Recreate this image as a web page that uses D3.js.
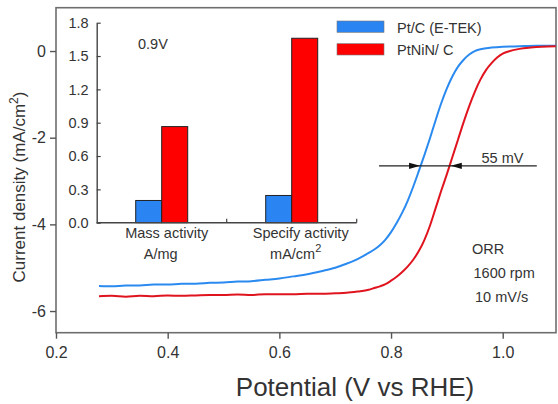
<!DOCTYPE html>
<html>
<head>
<meta charset="utf-8">
<script src="https://cdn.jsdelivr.net/npm/d3@7"></script>
<style>
  html, body { margin: 0; padding: 0; background: #fff; }
  svg { display: block; font-family: "Liberation Sans", Arial, sans-serif; }
</style>
</head>
<body>
<svg id="chart" width="558" height="404"></svg>
<script>
// ORR polarization curves (current density vs potential)
const ptcPotential = [0.277, 0.30, 0.325, 0.35, 0.375, 0.40, 0.425, 0.45, 0.475, 0.50, 0.525, 0.55, 0.575, 0.60, 0.625, 0.65, 0.675, 0.70, 0.72, 0.74, 0.76, 0.77, 0.78, 0.79, 0.80, 0.81, 0.82, 0.83, 0.84, 0.85, 0.86, 0.87, 0.88, 0.89, 0.90, 0.91, 0.92, 0.93, 0.94, 0.95, 0.96, 0.98, 1.00, 1.03, 1.06, 1.095];
const ptcCurrent   = [-5.42, -5.43, -5.41, -5.41, -5.39, -5.39, -5.37, -5.37, -5.35, -5.34, -5.32, -5.31, -5.28, -5.25, -5.20, -5.15, -5.08, -5.00, -4.91, -4.80, -4.66, -4.58, -4.48, -4.35, -4.18, -3.97, -3.73, -3.45, -3.12, -2.76, -2.39, -2.00, -1.59, -1.20, -0.86, -0.58, -0.36, -0.20, -0.08, 0.00, 0.04, 0.08, 0.10, 0.11, 0.12, 0.12];

const ptninPotential = [0.277, 0.30, 0.325, 0.35, 0.375, 0.40, 0.425, 0.45, 0.475, 0.50, 0.525, 0.55, 0.575, 0.60, 0.625, 0.65, 0.675, 0.70, 0.72, 0.74, 0.76, 0.77, 0.78, 0.79, 0.80, 0.81, 0.82, 0.83, 0.84, 0.85, 0.86, 0.87, 0.88, 0.89, 0.90, 0.91, 0.92, 0.93, 0.94, 0.95, 0.96, 0.97, 0.98, 0.99, 1.00, 1.01, 1.03, 1.05, 1.07, 1.095];
const ptninCurrent   = [-5.66, -5.65, -5.67, -5.65, -5.66, -5.64, -5.65, -5.64, -5.63, -5.63, -5.62, -5.63, -5.61, -5.61, -5.61, -5.60, -5.60, -5.59, -5.58, -5.55, -5.51, -5.47, -5.43, -5.38, -5.30, -5.21, -5.10, -4.97, -4.81, -4.61, -4.35, -4.02, -3.62, -3.22, -2.84, -2.44, -2.04, -1.64, -1.27, -0.94, -0.66, -0.44, -0.28, -0.15, -0.06, -0.01, 0.05, 0.08, 0.10, 0.11];

const seriesNames  = ["Pt/C (E-TEK)", "PtNiN/ C"];
const lineColors   = ["#2b8af0", "#e0141e"];
const barColors    = ["#2a84f2", "#ff0000"];

const xTicks = [0.2, 0.4, 0.6, 0.8, 1.0];
const yTicks = [0, -2, -4, -6];

// Inset: activities at 0.9 V
const activityCategories = ["Mass activity", "Specify activity"];
const activityUnits      = ["A/mg", "mA/cm"];
const ptcActivity        = [0.20, 0.245];
const ptninActivity      = [0.865, 1.66];
const insetTicks         = [0.0, 0.3, 0.6, 0.9, 1.2, 1.5, 1.8];

// Half-wave potential shift marker
const shiftCurrent   = -2.65;
const shiftFrom      = 0.852;
const shiftTo        = 0.907;
const shiftLineSpan  = [0.7785, 1.061];

const notes = ["ORR", "1600 rpm", "10 mV/s"];

const svg = d3.select("#chart");
const textColor = "#333";

const x = d3.scaleLinear().domain([0.2, 1.0954]).range([56, 556]);
const y = d3.scaleLinear().domain([-6.5, 1.0]).range([332.7, 7.7]);

// frame
svg.append("rect")
  .attr("x", x.range()[0]).attr("y", y.range()[1])
  .attr("width", x.range()[1] - x.range()[0])
  .attr("height", y.range()[0] - y.range()[1])
  .attr("fill", "none").attr("stroke", "#6e6e6e").attr("stroke-width", 1.6);

// axes
const xAxis = svg.append("g")
  .attr("transform", `translate(0,${y.range()[0]})`)
  .call(d3.axisBottom(x).tickValues(xTicks).tickFormat(d3.format(".1f")).tickSize(6).tickPadding(8));
const yAxis = svg.append("g")
  .attr("transform", `translate(${x.range()[0]},0)`)
  .call(d3.axisLeft(y).tickValues(yTicks).tickFormat(d => String(d)).tickSize(6).tickPadding(4));
[xAxis, yAxis].forEach(g => {
  g.select(".domain").remove();
  g.selectAll(".tick line").attr("stroke", "#555").attr("stroke-width", 1.4);
  g.selectAll(".tick text").attr("fill", textColor).style("font-size", "16px")
    .style("font-family", "'Liberation Sans', Arial, sans-serif");
});

// axis titles
svg.append("text")
  .attr("x", 355).attr("y", 396)
  .attr("text-anchor", "middle")
  .attr("fill", textColor)
  .style("font-size", "26px")
  .text("Potential (V vs RHE)");

const yTitle = svg.append("text")
  .attr("transform", "translate(25,187) rotate(-90)")
  .attr("text-anchor", "middle")
  .attr("fill", textColor)
  .style("font-size", "17px");
yTitle.append("tspan").text("Current density (mA/cm");
yTitle.append("tspan").attr("dy", -7).style("font-size", "12px").text("2");
yTitle.append("tspan").attr("dy", 7).text(")");

// curves
const line = d3.line().x(d => x(d[0])).y(d => y(d[1])).curve(d3.curveMonotoneX);
const curveData = [
  d3.zip(ptcPotential, ptcCurrent),
  d3.zip(ptninPotential, ptninCurrent)
];
svg.selectAll("path.curve")
  .data(curveData)
  .join("path")
  .attr("class", "curve")
  .attr("d", line)
  .attr("fill", "none")
  .attr("stroke", (d, i) => lineColors[i])
  .attr("stroke-width", 2);

// legend
const legend = svg.append("g");
seriesNames.forEach((name, i) => {
  legend.append("rect")
    .attr("x", 337).attr("y", 21 + i * 22.7)
    .attr("width", 47).attr("height", 11.3)
    .attr("fill", barColors[i])
    .attr("stroke", "#777").attr("stroke-width", 0.6);
  legend.append("text")
    .attr("x", 397).attr("y", 32.5 + i * 22.7)
    .attr("fill", textColor)
    .style("font-size", "14.5px")
    .text(name);
});

// shift marker
svg.append("line")
  .attr("x1", x(shiftLineSpan[0])).attr("x2", x(shiftLineSpan[1]))
  .attr("y1", y(shiftCurrent)).attr("y2", y(shiftCurrent))
  .attr("stroke", "#222").attr("stroke-width", 1.3);
const head = (tipX, dir) => {
  const yy = y(shiftCurrent);
  return `M${tipX},${yy} L${tipX - dir * 11},${yy - 3.2} L${tipX - dir * 11},${yy + 3.2} Z`;
};
svg.append("path").attr("d", head(x(shiftFrom), 1)).attr("fill", "#111");
svg.append("path").attr("d", head(x(shiftTo), -1)).attr("fill", "#111");
svg.append("text")
  .attr("x", 481.5).attr("y", 163)
  .attr("fill", textColor)
  .style("font-size", "14.5px")
  .text(`${Math.round((shiftTo - shiftFrom) * 1000)} mV`);

// conditions
notes.forEach((t, i) => {
  svg.append("text")
    .attr("x", i === 0 ? 472 : 473.5 + (i - 1) * 1.5)
    .attr("y", 253.5 + i * 24)
    .attr("fill", textColor)
    .style("font-size", "14.5px")
    .text(t);
});

// inset bar chart
const ix = d3.scaleBand().domain(activityCategories).range([96.7, 356.7]);
const iy = d3.scaleLinear().domain([0, 1.8]).range([222.7, 22.7]);
const inset = svg.append("g");
const barW = 26;

activityCategories.forEach((cat, i) => {
  const cx = ix(cat) + ix.bandwidth() / 2;
  [ptcActivity[i], ptninActivity[i]].forEach((v, s) => {
    inset.append("rect")
      .attr("x", s === 0 ? cx - barW : cx)
      .attr("y", iy(v))
      .attr("width", barW)
      .attr("height", iy(0) - iy(v))
      .attr("fill", barColors[s])
      .attr("stroke", "#222").attr("stroke-width", 1);
  });
});

const iyAxis = inset.append("g")
  .attr("transform", `translate(${ix.range()[0]},0)`)
  .call(d3.axisLeft(iy).tickValues(insetTicks).tickFormat(d3.format(".1f")).tickSizeInner(-4).tickSizeOuter(0).tickPadding(8));
iyAxis.select(".domain").attr("stroke", "#444").attr("stroke-width", 1.4);
iyAxis.selectAll(".tick line").attr("stroke", "#444").attr("stroke-width", 1.2);
iyAxis.selectAll(".tick text").attr("fill", textColor).style("font-size", "14.5px")
  .style("font-family", "'Liberation Sans', Arial, sans-serif");

inset.append("line")
  .attr("x1", ix.range()[0]).attr("x2", ix.range()[1])
  .attr("y1", iy(0)).attr("y2", iy(0))
  .attr("stroke", "#444").attr("stroke-width", 1.4);
activityCategories.forEach(cat => {
  const bx = ix(cat) + ix.bandwidth();
  inset.append("line")
    .attr("x1", bx).attr("x2", bx)
    .attr("y1", iy(0)).attr("y2", iy(0) - 4)
    .attr("stroke", "#444").attr("stroke-width", 1.2);
});

activityCategories.forEach((cat, i) => {
  const cx = ix(cat) + ix.bandwidth() / 2;
  inset.append("text")
    .attr("x", cx + 5 + i * 4).attr("y", 238)
    .attr("text-anchor", "middle")
    .attr("fill", textColor)
    .style("font-size", "14.5px")
    .text(cat);
  const u = inset.append("text")
    .attr("x", cx + (i === 0 ? -1 : 4)).attr("y", 259)
    .attr("text-anchor", "middle")
    .attr("fill", textColor)
    .style("font-size", "14.5px");
  u.append("tspan").text(activityUnits[i]);
  if (i === 1) u.append("tspan").attr("dy", -7).style("font-size", "11px").text("2");
});

inset.append("text")
  .attr("x", 138).attr("y", 48.5)
  .attr("fill", textColor)
  .style("font-size", "14.5px")
  .text("0.9V");
</script>
</body>
</html>
